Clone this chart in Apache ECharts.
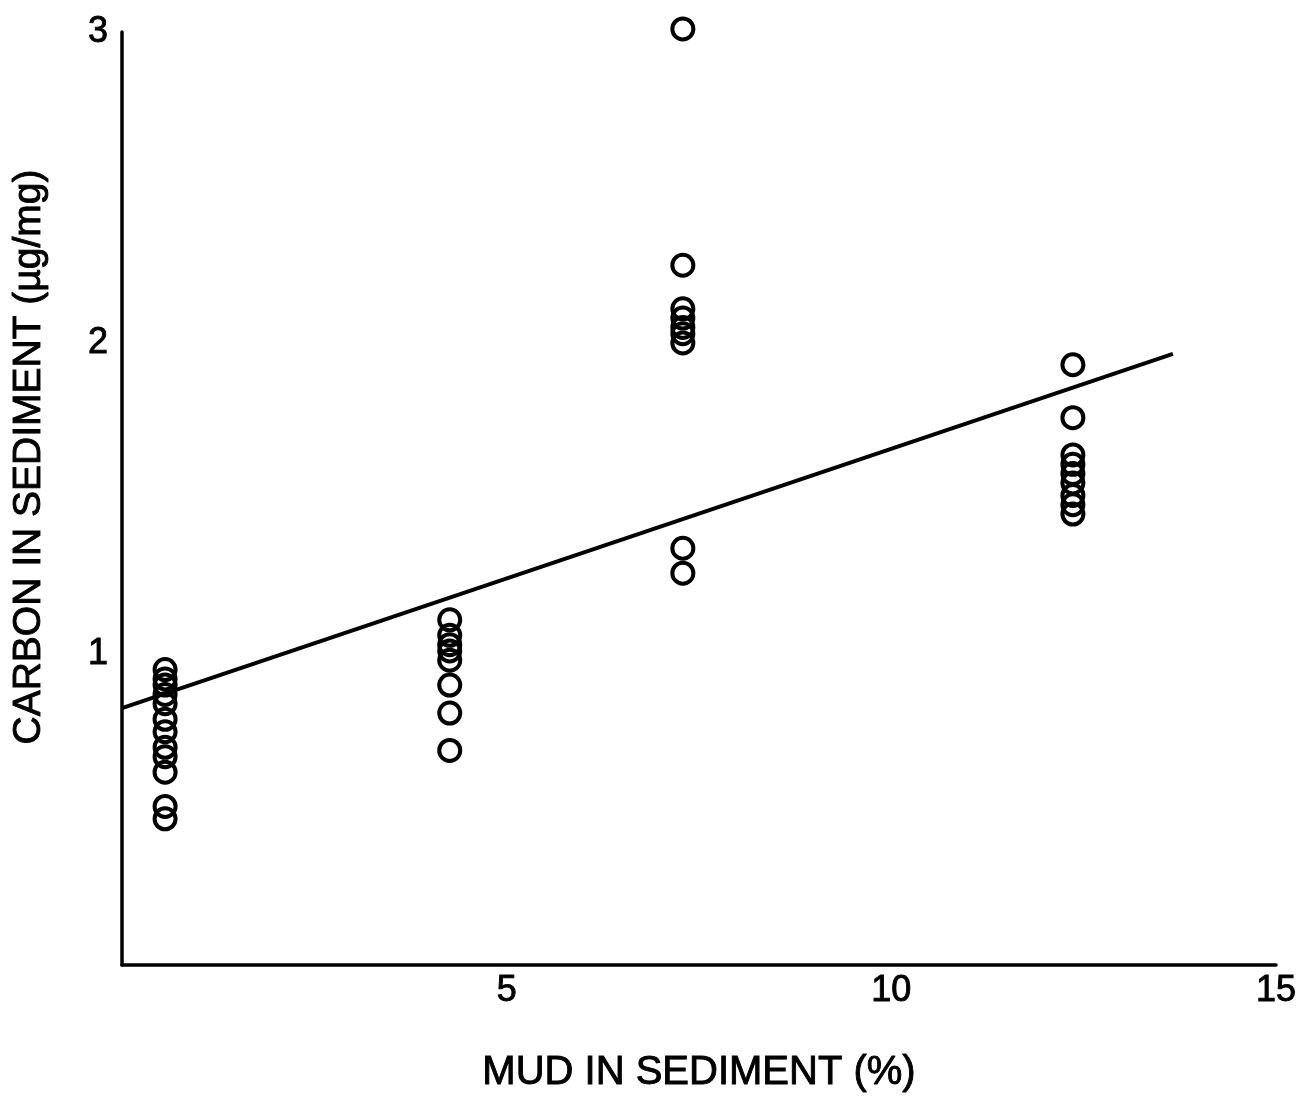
<!DOCTYPE html>
<html>
<head>
<meta charset="utf-8">
<title>Carbon vs mud in sediment</title>
<script src="https://cdn.jsdelivr.net/npm/echarts@6/dist/echarts.min.js"></script>
<style>
  html, body { margin: 0; padding: 0; background: #fff; }
  #chart { width: 1303px; height: 1102px; }
</style>
</head>
<body>
<div id="chart"></div>
<script>
// Mud content (%) of each sampled sediment, one entry per sample
const mudPercent = [
  0.56, 0.56, 0.56, 0.56, 0.56, 0.56, 0.56, 0.56, 0.56, 0.56, 0.56, 0.56,
  4.26, 4.26, 4.26, 4.26, 4.26, 4.26, 4.26, 4.26,
  7.29, 7.29, 7.29, 7.29, 7.29, 7.29, 7.29, 7.29, 7.29,
  12.36, 12.36, 12.36, 12.36, 12.36, 12.36, 12.36, 12.36, 12.36
];
// Carbon measured in the same samples (µg/mg)
const carbonUgMg = [
  0.95, 0.92, 0.90, 0.87, 0.84, 0.79, 0.75, 0.70, 0.67, 0.62, 0.51, 0.47,
  1.11, 1.06, 1.03, 1.01, 0.98, 0.90, 0.81, 0.69,
  3.01, 2.25, 2.11, 2.08, 2.05, 2.03, 2.00, 1.34, 1.26,
  1.93, 1.76, 1.64, 1.61, 1.58, 1.55, 1.51, 1.48, 1.45
];
// Least-squares fit line end points
const fitX = [0, 13.66];
const fitY = [0.826, 1.965];

const xTicks = [5, 10, 15];
const yTicks = [1, 2, 3];

const samples = mudPercent.map((m, i) => [m, carbonUgMg[i]]);
const fitLine = fitX.map((x, i) => [x, fitY[i]]);

const FONT = '"Liberation Sans", Arial, Helvetica, sans-serif';
// slightly heavier strokes for all lettering
const INK = { color: '#000', textBorderColor: '#000', textBorderWidth: 0.9 };

const chart = echarts.init(document.getElementById('chart'), null, { renderer: 'canvas' });
chart.setOption({
  backgroundColor: '#ffffff',
  animation: false,
  grid: { left: 122, right: 27, top: 32, bottom: 137 },
  xAxis: {
    type: 'value',
    min: 0,
    max: 15,
    interval: 5,
    name: 'MUD IN SEDIMENT (%)',
    nameLocation: 'middle',
    nameGap: 88,
    nameTextStyle: Object.assign({ fontFamily: FONT, fontSize: 40 }, INK),
    axisLine: { show: true, lineStyle: { color: '#000', width: 3.5 } },
    axisTick: { show: false },
    splitLine: { show: false },
    axisLabel: Object.assign({
      fontFamily: FONT, fontSize: 36, margin: 8,
      formatter: v => (xTicks.includes(v) ? String(v) : '')
    }, INK)
  },
  yAxis: {
    type: 'value',
    min: 0,
    max: 3,
    interval: 1,
    axisLine: { show: true, lineStyle: { color: '#000', width: 3.5 } },
    axisTick: { show: false },
    splitLine: { show: false },
    axisLabel: Object.assign({
      fontFamily: FONT, fontSize: 36, margin: 14,
      formatter: v => (yTicks.includes(v) ? String(v) : '')
    }, INK)
  },
  graphic: [{
    type: 'text',
    x: 29,
    y: 457,
    rotation: Math.PI / 2,
    style: {
      text: 'CARBON IN SEDIMENT (\u00B5g/mg)',
      fontFamily: FONT,
      fontSize: 39,
      fill: '#000',
      stroke: '#000',
      lineWidth: 0.9,
      textAlign: 'center',
      textVerticalAlign: 'middle'
    }
  }],
  series: [
    {
      type: 'line',
      data: fitLine,
      symbol: 'none',
      lineStyle: { color: '#000', width: 4 },
      z: 2
    },
    {
      type: 'scatter',
      data: samples,
      clip: false,
      symbol: 'circle',
      symbolSize: 21,
      itemStyle: { color: 'rgba(0,0,0,0)', borderColor: '#000', borderWidth: 4, opacity: 1 },
      z: 3
    }
  ]
});
</script>
</body>
</html>
